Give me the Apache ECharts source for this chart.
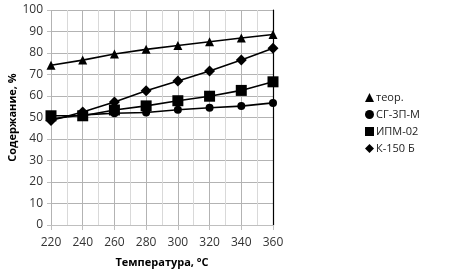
<!DOCTYPE html>
<html><head><meta charset="utf-8">
<script src="https://cdn.jsdelivr.net/npm/echarts@6/dist/echarts.min.js"></script>
<style>html,body{margin:0;padding:0;background:#fff}#c{width:454px;height:273px}</style>
</head><body><div id="c"></div>
<script>
const temps = [220, 240, 260, 280, 300, 320, 340, 360];
const seriesNames = ['теор.', 'СГ-3П-М', 'ИПМ-02', 'К-150 Б'];
const teor = [74.3, 76.7, 79.5, 81.7, 83.5, 85.2, 87, 88.6];
const sg3pm = [49.3, 51.2, 52, 52.3, 53.6, 54.5, 55.3, 56.8];
const ipm02 = [50.8, 50.8, 53.5, 55.4, 57.8, 59.9, 62.6, 66.6];
const k150b = [48.6, 52.6, 57.2, 62.4, 67, 71.6, 76.7, 82.2];
const symbols = ['triangle', 'circle', 'rect', 'diamond'];
const symbolSizes = [9, 8, 11, 11];
const allValues = [teor, sg3pm, ipm02, k150b];

const chart = echarts.init(document.getElementById('c'), null, {renderer: 'canvas'});
const font = '"Open Sans", "DejaVu Sans", sans-serif';
chart.setOption({
  animation: false,
  grid: {left: 51, right: 181, top: 10, bottom: 48, containLabel: false},
  legend: {
    orient: 'vertical', left: 360, top: 87, itemGap: 6,
    itemWidth: 9, itemHeight: 9,
    textStyle: {fontFamily: font, fontSize: 11, color: '#222', padding: [0, 0, 0, -3]},
    data: seriesNames.map((n, i) => ({name: n, icon: symbols[i]})),
    itemStyle: {color: '#000'}
  },
  xAxis: {
    type: 'value', min: 220, max: 360, interval: 20,
    name: 'Температура, °C', nameLocation: 'middle', nameGap: 32,
    nameTextStyle: {fontFamily: font, fontSize: 11, fontWeight: 'bold', color: '#000'},
    axisLine: {show: true, lineStyle: {color: '#bfbfbf', width: 1}},
    axisTick: {show: true, length: 5, lineStyle: {color: '#bfbfbf'}},
    axisLabel: {fontFamily: font, fontSize: 12, color: '#333', margin: 12},
    splitLine: {show: true, lineStyle: {color: '#b3b3b3', width: 1}},
    minorTick: {show: false, splitNumber: 2},
    minorSplitLine: {show: true, lineStyle: {color: '#d9d9d9', width: 1}}
  },
  yAxis: [{
    type: 'value', min: 0, max: 100, interval: 10,
    name: 'Содержание, %', nameLocation: 'middle', nameGap: 33, nameRotate: 90,
    nameTextStyle: {fontFamily: font, fontSize: 11, fontWeight: 'bold', color: '#000'},
    axisLine: {show: false},
    axisTick: {show: true, length: 4, lineStyle: {color: '#bfbfbf'}},
    axisLabel: {fontFamily: font, fontSize: 12, color: '#333', margin: 8},
    splitLine: {show: true, lineStyle: {color: '#b3b3b3', width: 1}}
  }, {
    type: 'value', min: 0, max: 100, interval: 10, position: 'right',
    axisLine: {show: true, lineStyle: {color: '#000', width: 1.2}},
    axisTick: {show: false}, axisLabel: {show: false}, splitLine: {show: false}
  }],
  series: seriesNames.map((n, i) => ({
    name: n, type: 'line', yAxisIndex: 0,
    data: temps.map((t, j) => [t, allValues[i][j]]),
    symbol: symbols[i], symbolSize: symbolSizes[i], showAllSymbol: true,
    lineStyle: {color: '#000', width: 1.6},
    itemStyle: {color: '#000'}
  }))
});
</script></body></html>
